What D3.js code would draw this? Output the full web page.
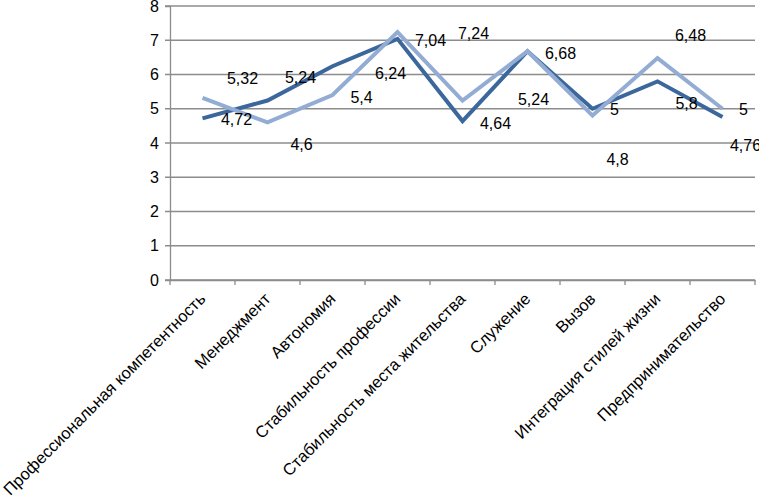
<!DOCTYPE html>
<html>
<head>
<meta charset="utf-8">
<script src="https://cdn.jsdelivr.net/npm/d3@7"></script>
<style>
  body { margin: 0; background: #fff; }
  svg text { font-family: "Liberation Sans", Arial, sans-serif; fill: #000; }
</style>
</head>
<body>
<div id="chart"></div>
<script>
// data
var categories = ["Профессиональная компетентность", "Менеджмент", "Автономия",
  "Стабильность профессии", "Стабильность места жительства", "Служение",
  "Вызов", "Интеграция стилей жизни", "Предпринимательство"];
var seriesDark  = [4.72, 5.24, 6.24, 7.04, 4.64, 6.68, 5, 5.8, 4.76];
var seriesLight = [5.32, 4.6, 5.4, 7.24, 5.24, 6.68, 4.8, 6.48, 5];
var yTicks = [0, 1, 2, 3, 4, 5, 6, 7, 8];

// label nudges (px) so labels sit where the original put them
var darkNudge  = [[34, 1], [33, -23], [58, 7], [33, 2], [33, 2], [33, 2], [22, 1], [29, 22], [23, 28]];
var lightNudge = [[40, -19], [34, 22], [29, 2], [76, 1], [71, -1], [33, 2], [25, 44], [33, -23], [21, 1]];

var w = 759, h = 499;
var pLeft = 170, pRight = 755, pTop = 6, pBottom = 280;

var svg = d3.select("#chart").append("svg")
  .attr("width", w).attr("height", h);

var x = d3.scaleBand().domain(categories).range([pLeft, pRight]);
var y = d3.scaleLinear().domain([0, 8]).range([pBottom, pTop]);

// grid lines
svg.append("g").selectAll("line").data(yTicks).enter().append("line")
  .attr("x1", pLeft - 5).attr("x2", pRight)
  .attr("y1", d => y(d)).attr("y2", d => y(d))
  .attr("stroke", "#8c8c8c").attr("stroke-width", 1.3);

// y axis
var yAxis = svg.append("g")
  .attr("transform", "translate(" + pLeft + ",0)")
  .call(d3.axisLeft(y).tickValues(yTicks).tickSize(5).tickFormat(d3.format("d")));
yAxis.select(".domain").attr("stroke", "#8c8c8c").attr("stroke-width", 1.3);
yAxis.selectAll(".tick line").remove();
yAxis.selectAll("text").attr("font-size", 16).attr("x", -11);

// x axis
var xAxis = svg.append("g")
  .attr("transform", "translate(0," + pBottom + ")")
  .call(d3.axisBottom(x).tickSize(0).tickSizeOuter(0));
xAxis.select(".domain").attr("stroke", "#8c8c8c").attr("stroke-width", 1.3);
xAxis.selectAll(".tick text")
  .attr("font-size", 16.5)
  .attr("text-anchor", "end")
  .attr("x", 0).attr("y", 0).attr("dy", 0)
  .attr("transform", "translate(4,20) rotate(-45)");
// ticks between categories
var bounds = d3.range(categories.length + 1).map(i => pLeft + i * x.bandwidth());
svg.append("g").selectAll("line").data(bounds).enter().append("line")
  .attr("x1", d => d).attr("x2", d => d)
  .attr("y1", pBottom).attr("y2", pBottom + 5)
  .attr("stroke", "#8c8c8c").attr("stroke-width", 1.3);

var cx = (d, i) => x(categories[i]) + x.bandwidth() / 2;
var line = d3.line().x(cx).y(d => y(d));

svg.append("path").datum(seriesDark)
  .attr("d", line).attr("fill", "none")
  .attr("stroke", "#3b679c").attr("stroke-width", 4).attr("stroke-linejoin", "miter");
svg.append("path").datum(seriesLight)
  .attr("d", line).attr("fill", "none")
  .attr("stroke", "#93acd3").attr("stroke-width", 4).attr("stroke-linejoin", "miter");

var fmt = d => String(d).replace(".", ",");
function labels(data, nudge, skip) {
  var items = data.map((v, i) => ({ v: v, i: i }))
    .filter(o => !skip || skip[o.i] !== o.v);
  svg.append("g").selectAll("text").data(items).enter().append("text")
    .attr("x", o => cx(o.v, o.i) + nudge[o.i][0])
    .attr("y", o => y(o.v) + nudge[o.i][1])
    .attr("dy", "0.35em")
    .attr("text-anchor", "middle")
    .attr("font-size", 16)
    .text(o => fmt(o.v));
}
labels(seriesDark, darkNudge);
// where both series share a value the original shows a single label
labels(seriesLight, lightNudge, seriesDark);
</script>
</body>
</html>
